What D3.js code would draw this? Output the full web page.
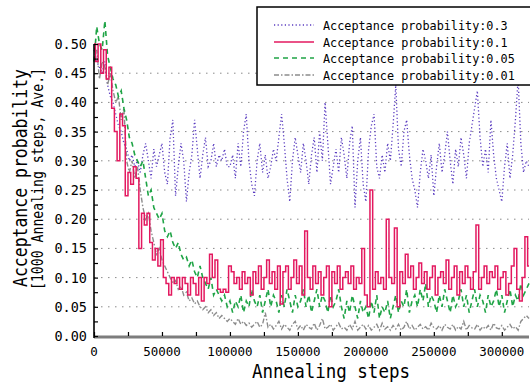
<!DOCTYPE html>
<html>
<head>
<meta charset="utf-8">
<script src="https://cdn.jsdelivr.net/npm/d3@7"></script>
<style>
  body { margin: 0; background: #fff; }
  svg { display: block; }
  text { font-family: "DejaVu Sans Mono", "Liberation Mono", monospace; fill: #000; }
</style>
</head>
<body>
<svg id="chart" width="530" height="385"></svg>
<script>
// averaged acceptance probability, one value per 2000 annealing steps
var steps = d3.range(0, 322000, 2000);

var p30 = [
  0.49, 0.47, 0.46, 0.45, 0.47, 0.43, 0.41, 0.40, 0.38, 0.36,
  0.35, 0.33, 0.32, 0.30, 0.31, 0.29, 0.30, 0.28, 0.31, 0.33,
  0.30, 0.27, 0.32, 0.29, 0.31, 0.33, 0.28, 0.26, 0.34, 0.37,
  0.24, 0.29, 0.33, 0.30, 0.23, 0.28, 0.31, 0.37, 0.32, 0.27,
  0.31, 0.34, 0.29, 0.30, 0.33, 0.29, 0.31, 0.30, 0.32, 0.29,
  0.29, 0.31, 0.27, 0.33, 0.29, 0.35, 0.38, 0.30, 0.26, 0.24,
  0.30, 0.33, 0.28, 0.31, 0.27, 0.29, 0.32, 0.30, 0.34, 0.38,
  0.33, 0.27, 0.23, 0.30, 0.34, 0.31, 0.28, 0.33, 0.30, 0.26,
  0.31, 0.34, 0.28, 0.35, 0.30, 0.40, 0.33, 0.26, 0.29, 0.32,
  0.28, 0.34, 0.31, 0.27, 0.33, 0.36, 0.22, 0.30, 0.34, 0.26,
  0.23, 0.32, 0.36, 0.38, 0.29, 0.27, 0.31, 0.28, 0.33, 0.30,
  0.36, 0.43, 0.32, 0.29, 0.35, 0.37, 0.31, 0.27, 0.25, 0.22,
  0.28, 0.32, 0.30, 0.27, 0.31, 0.24, 0.29, 0.33, 0.28, 0.31,
  0.35, 0.30, 0.26, 0.32, 0.29, 0.34, 0.31, 0.27, 0.33, 0.36,
  0.39, 0.42, 0.34, 0.29, 0.32, 0.28, 0.37, 0.31, 0.27, 0.25,
  0.23, 0.29, 0.33, 0.27, 0.31, 0.37, 0.44, 0.33, 0.28, 0.30,
  0.29
];

var p10 = [
  0.50, 0.47, 0.50, 0.45, 0.49, 0.44, 0.46, 0.39, 0.35, 0.30,
  0.38, 0.36, 0.24, 0.28, 0.26, 0.29, 0.27, 0.15, 0.21, 0.19,
  0.21, 0.16, 0.13, 0.15, 0.12, 0.165, 0.10, 0.09, 0.07, 0.10,
  0.09, 0.10, 0.08, 0.10, 0.09, 0.07, 0.10, 0.09, 0.07, 0.10,
  0.06, 0.10, 0.09, 0.14, 0.10, 0.13, 0.08, 0.075, 0.08, 0.075,
  0.12, 0.11, 0.09, 0.10, 0.08, 0.11, 0.09, 0.10, 0.07, 0.11,
  0.09, 0.12, 0.08, 0.10, 0.13, 0.09, 0.11, 0.08, 0.12, 0.055,
  0.11, 0.12, 0.08, 0.10, 0.13, 0.09, 0.12, 0.07, 0.18, 0.10,
  0.08, 0.12, 0.09, 0.11, 0.07, 0.10, 0.12, 0.05, 0.11, 0.09,
  0.12, 0.08, 0.10, 0.11, 0.09, 0.12, 0.08, 0.10, 0.09, 0.15,
  0.07, 0.05, 0.25, 0.08, 0.11, 0.09, 0.10, 0.08, 0.20, 0.10,
  0.09, 0.185, 0.05, 0.11, 0.09, 0.14, 0.10, 0.12, 0.08, 0.10,
  0.125, 0.09, 0.11, 0.08, 0.10, 0.12, 0.07, 0.10, 0.11, 0.09,
  0.13, 0.08, 0.10, 0.12, 0.07, 0.11, 0.09, 0.12, 0.10, 0.08,
  0.11, 0.19, 0.08, 0.10, 0.12, 0.09, 0.11, 0.10, 0.12, 0.08,
  0.10, 0.11, 0.07, 0.09, 0.12, 0.15, 0.08, 0.06, 0.10, 0.17,
  0.12
];

var p05 = [
  0.47, 0.53, 0.50, 0.49, 0.54, 0.48, 0.46, 0.44, 0.43, 0.41,
  0.42, 0.39, 0.37, 0.34, 0.33, 0.31, 0.30, 0.29, 0.30, 0.27,
  0.24, 0.25, 0.22, 0.21, 0.20, 0.21, 0.18, 0.17, 0.18, 0.16,
  0.15, 0.16, 0.14, 0.13, 0.135, 0.12, 0.13, 0.11, 0.10, 0.12,
  0.10, 0.09, 0.08, 0.10, 0.07, 0.08, 0.07, 0.06, 0.07, 0.05,
  0.06, 0.04, 0.06, 0.05, 0.07, 0.04, 0.06, 0.05, 0.08, 0.06,
  0.05, 0.07, 0.04, 0.06, 0.08, 0.05, 0.07, 0.06, 0.04, 0.07,
  0.05, 0.08, 0.06, 0.04, 0.07, 0.05, 0.06, 0.08, 0.05, 0.07,
  0.04, 0.06, 0.08, 0.05, 0.07, 0.06, 0.04, 0.07, 0.05, 0.06,
  0.08, 0.05, 0.03, 0.06, 0.04, 0.07, 0.05, 0.03, 0.06, 0.04,
  0.05, 0.03, 0.06, 0.04, 0.07, 0.03, 0.05, 0.04, 0.06, 0.03,
  0.05, 0.07, 0.04, 0.06, 0.05, 0.08, 0.04, 0.06, 0.07, 0.05,
  0.08, 0.06, 0.09, 0.05, 0.07, 0.06, 0.04, 0.07, 0.05, 0.08,
  0.06, 0.04, 0.07, 0.05, 0.06, 0.08, 0.05, 0.07, 0.04, 0.06,
  0.08, 0.05, 0.07, 0.06, 0.04, 0.07, 0.05, 0.06, 0.08, 0.05,
  0.07, 0.04, 0.06, 0.08, 0.05, 0.07, 0.06, 0.09, 0.07, 0.08,
  0.09
];

var p01 = [
  0.47, 0.49, 0.44, 0.47, 0.46, 0.43, 0.45, 0.42, 0.40, 0.41,
  0.37, 0.39, 0.30, 0.28, 0.30, 0.27, 0.29, 0.25, 0.22, 0.20,
  0.21, 0.18, 0.16, 0.14, 0.15, 0.13, 0.12, 0.11, 0.10, 0.09,
  0.095, 0.08, 0.085, 0.07, 0.075, 0.06, 0.065, 0.055, 0.06, 0.05,
  0.045, 0.05, 0.04, 0.045, 0.035, 0.04, 0.03, 0.035, 0.03, 0.025,
  0.03, 0.025, 0.02, 0.03, 0.02, 0.025, 0.018, 0.022, 0.015, 0.02,
  0.025, 0.015, 0.02, 0.04, 0.015, 0.02, 0.012, 0.018, 0.025, 0.012,
  0.02, 0.015, 0.01, 0.02, 0.025, 0.012, 0.018, 0.01, 0.02, 0.015,
  0.012, 0.022, 0.01, 0.018, 0.03, 0.012, 0.015, 0.02, 0.01, 0.016,
  0.022, 0.012, 0.015, 0.01, 0.02, 0.012, 0.025, 0.01, 0.015, 0.02,
  0.012, 0.018, 0.01, 0.015, 0.02, 0.01, 0.022, 0.012, 0.016, 0.01,
  0.018, 0.012, 0.02, 0.01, 0.015, 0.025, 0.012, 0.018, 0.01, 0.015,
  0.02, 0.012, 0.016, 0.01, 0.022, 0.014, 0.012, 0.018, 0.01, 0.02,
  0.015, 0.012, 0.02, 0.01, 0.016, 0.012, 0.025, 0.01, 0.018, 0.014,
  0.012, 0.02, 0.01, 0.016, 0.012, 0.018, 0.01, 0.022, 0.014, 0.012,
  0.018, 0.01, 0.015, 0.02, 0.012, 0.016, 0.01, 0.025, 0.03, 0.035,
  0.03
];

var xTicks = [0, 50000, 100000, 150000, 200000, 250000, 300000];
var yTicks = [0, 0.05, 0.10, 0.15, 0.20, 0.25, 0.30, 0.35, 0.40, 0.45, 0.50];
var gridTicks = [0.05, 0.10, 0.15, 0.20, 0.25, 0.30, 0.35, 0.40, 0.45];

var series = [
  { name: "Acceptance probability:0.3",  values: p30, color: "#5a3cc0", width: 1.3, dash: "1.2,2.4", curve: d3.curveLinear },
  { name: "Acceptance probability:0.01", values: p01, color: "#8c8c8c", width: 1.4, dash: "5,2,1.5,2", curve: d3.curveLinear },
  { name: "Acceptance probability:0.05", values: p05, color: "#1fa446", width: 1.6, dash: "5,4", curve: d3.curveLinear },
  { name: "Acceptance probability:0.1",  values: p10, color: "#e3185f", width: 1.5, dash: null, curve: d3.curveStep }
];
var legendOrder = [0, 3, 2, 1];

var svg = d3.select("#chart");

var x = d3.scaleLinear().domain([0, 320000]).range([94, 529]);
var y = d3.scaleLinear().domain([0, 0.5]).range([336, 44]);

// grid
svg.append("g").selectAll("line")
  .data(gridTicks)
  .enter().append("line")
  .attr("x1", x(0)).attr("x2", x(320000))
  .attr("y1", function(d) { return y(d); })
  .attr("y2", function(d) { return y(d); })
  .attr("stroke", "#8a8a8a")
  .attr("stroke-width", 1)
  .attr("stroke-dasharray", "1.5,5.5");

// lines
series.forEach(function(s) {
  var line = d3.line()
    .x(function(d, i) { return x(steps[i]); })
    .y(function(d) { return y(d); })
    .curve(s.curve);
  svg.append("path")
    .datum(s.values)
    .attr("d", line)
    .attr("fill", "none")
    .attr("stroke", s.color)
    .attr("stroke-width", s.width)
    .attr("stroke-dasharray", s.dash);
});

// x axis (thick gray base line, ticks pointing up)
svg.append("line")
  .attr("x1", x(0)).attr("x2", x(320000))
  .attr("y1", y(0) + 1).attr("y2", y(0) + 1)
  .attr("stroke", "#7d7d7d").attr("stroke-width", 3);

var xAxis = svg.append("g")
  .attr("transform", "translate(0," + y(0) + ")")
  .call(d3.axisBottom(x).tickValues(d3.range(0, 320001, 25000)).tickSize(-4).tickFormat(""));
xAxis.select(".domain").remove();
xAxis.selectAll("line").attr("stroke", "#000").attr("stroke-width", 1.2);

svg.append("g").selectAll("text")
  .data(xTicks)
  .enter().append("text")
  .attr("x", function(d) { return x(d); })
  .attr("y", 356)
  .attr("text-anchor", "middle")
  .style("font-size", "12.5px")
  .text(function(d) { return d; });

// y axis
var yAxis = svg.append("g")
  .attr("transform", "translate(" + x(0) + ",0)")
  .call(d3.axisLeft(y).tickValues(d3.range(0, 0.5001, 0.025)).tickSize(-4).tickFormat(""));
yAxis.select(".domain").attr("stroke", "#000").attr("stroke-width", 1.6).attr("d", "M0," + y(0.5) + "V" + (y(0) + 2));
yAxis.selectAll("line").attr("stroke", "#000").attr("stroke-width", 1.2);

svg.append("g").selectAll("text")
  .data(yTicks)
  .enter().append("text")
  .attr("x", 87)
  .attr("y", function(d) { return y(d) + 5; })
  .attr("text-anchor", "end")
  .style("font-size", "13.5px")
  .text(function(d) { return d.toFixed(2); });

// axis titles
svg.append("text")
  .attr("x", 331).attr("y", 378)
  .attr("text-anchor", "middle")
  .attr("textLength", 158).attr("lengthAdjust", "spacingAndGlyphs")
  .style("font-size", "19px")
  .text("Annealing steps");

svg.append("text")
  .attr("transform", "translate(27,178) rotate(-90)")
  .attr("text-anchor", "middle")
  .attr("textLength", 218).attr("lengthAdjust", "spacingAndGlyphs")
  .style("font-size", "20px")
  .text("Acceptance probability");

svg.append("text")
  .attr("transform", "translate(43,179) rotate(-90)")
  .attr("text-anchor", "middle")
  .attr("textLength", 222).attr("lengthAdjust", "spacingAndGlyphs")
  .style("font-size", "15px")
  .text("[1000 Annealing steps, Ave.]");

// legend
var legend = svg.append("g");
legend.append("rect")
  .attr("x", 257).attr("y", 7)
  .attr("width", 280).attr("height", 78)
  .attr("fill", "#fff")
  .attr("stroke", "#000").attr("stroke-width", 1.5);

var rowY = [25, 42, 58, 75];
legendOrder.forEach(function(k, j) {
  var s = series[k];
  legend.append("line")
    .attr("x1", 274).attr("x2", 314)
    .attr("y1", rowY[j]).attr("y2", rowY[j])
    .attr("stroke", s.color)
    .attr("stroke-width", s.width)
    .attr("stroke-dasharray", s.dash);
  legend.append("text")
    .attr("x", 323).attr("y", rowY[j] + 4.5)
    .style("font-size", "11.8px")
    .text(s.name);
});
</script>
</body>
</html>
